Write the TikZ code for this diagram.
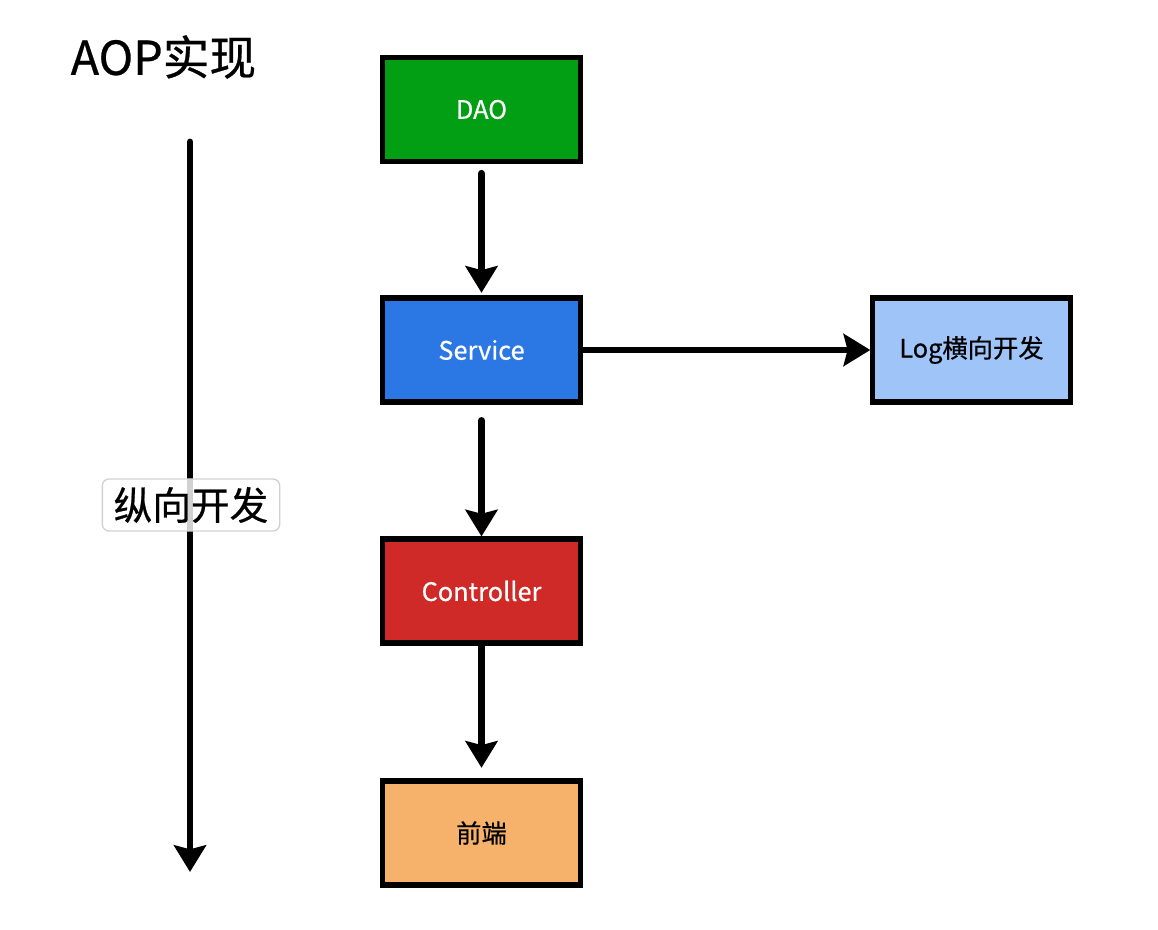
\documentclass[tikz,border=0pt]{standalone}
\usepackage{fontspec}
\setmainfont{Noto Sans CJK SC}[FakeBold=0.6]
\usetikzlibrary{arrows.meta}
\definecolor{cdao}{RGB}{2,158,19}
\definecolor{cservice}{RGB}{43,120,228}
\definecolor{cctrl}{RGB}{207,42,39}
\definecolor{cfront}{RGB}{246,178,107}
\definecolor{clog}{RGB}{159,197,248}
\tikzset{
  layer/.style={draw=black, line width=3.8pt, minimum width=148pt, minimum height=78pt, inner sep=0pt, font=\fontsize{19}{22}\selectfont},
  flow/.style={line width=5.2pt, line cap=round, -{Stealth[length=20pt, width=24pt, inset=3pt]}},
}
\begin{document}
\begin{tikzpicture}[x=0.75pt, y=-0.75pt]
\useasboundingbox (0,0) rectangle (1158,930);
\fill[white] (0,0) rectangle (1158,930);
\node[anchor=west, font=\fontsize{35}{40}\selectfont] (title) at (66,57) {AOP实现};
\node[layer, fill=cdao, text=white] (dao) at (481.5,109.5) {DAO};
\node[layer, fill=cservice, text=white] (service) at (481.5,350) {Service};
\node[layer, fill=cctrl, text=white] (ctrl) at (481.5,591) {Controller};
\node[layer, fill=cfront, text=black] (front) at (481.5,833) {前端};
\node[layer, fill=clog, text=black] (log) at (971.5,350) {Log横向开发};
\coordinate (axtop) at (190,142);
\coordinate (axbot) at (190,872);
\draw[flow] (axtop) -- (axbot);
\node[draw=black!18, line width=1pt, rounded corners=5pt, fill=white, fill opacity=0.82, text opacity=1, minimum width=133pt, minimum height=39pt, inner sep=0pt, font=\fontsize{29}{32}\selectfont] (vlabel) at (191,505) {纵向开发};
\draw[flow] ([yshift=-7pt]dao.south) -- ([yshift=2pt]service.north);
\draw[flow] ([yshift=-12pt]service.south) -- ([yshift=0pt]ctrl.north);
\draw[flow] (ctrl.south) -- ([yshift=8pt]front.north);
\draw[flow] (service.east) -- (log.west);
\end{tikzpicture}
\end{document}
